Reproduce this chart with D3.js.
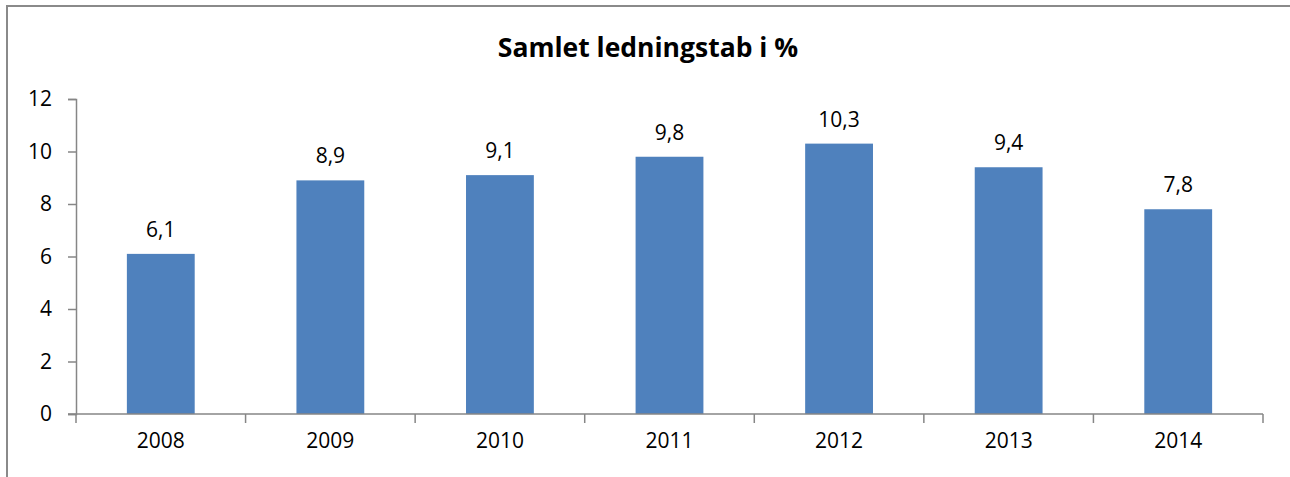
<!DOCTYPE html>
<html lang="da">
<head>
  <meta charset="utf-8">
  <title>Samlet ledningstab i %</title>
  <script src="https://d3js.org/d3.v7.min.js"></script>
  <style>
    body { margin: 0; background: #fff; }
    text { font-family: "Open Sans", Lato, sans-serif; fill: #000; }
  </style>
</head>
<body>
  <div id="chart"></div>
  <script>
    // data
    var aar = ["2008", "2009", "2010", "2011", "2012", "2013", "2014"];
    var tab = [6.1, 8.9, 9.1, 9.8, 10.3, 9.4, 7.8];
    var yTicks = [0, 2, 4, 6, 8, 10, 12];

    var W = 1290, H = 477;
    var m = {top: 99, left: 76, right: 27, bottom: 63};
    var bredde = W - m.left - m.right, hoejde = H - m.top - m.bottom;

    var svg = d3.select("#chart").append("svg")
      .attr("width", W).attr("height", H);

    // ramme
    svg.append("rect")
      .attr("x", 7).attr("y", 6)
      .attr("width", W + 10).attr("height", H + 10)
      .attr("fill", "none").attr("stroke", "#8a8a8a").attr("stroke-width", 2);

    svg.append("text")
      .attr("x", 648).attr("y", 57)
      .attr("text-anchor", "middle")
      .style("font-size", "26.5px").style("font-weight", "bold")
      .text("Samlet ledningstab i %");

    var g = svg.append("g").attr("transform", "translate(" + m.left + "," + m.top + ")");

    var x = d3.scaleBand().domain(aar).range([0, bredde]).paddingInner(0.6).paddingOuter(0.3);
    var xb = d3.scaleBand().domain(aar).range([0, bredde]); // til tick-streger
    var y = d3.scaleLinear().domain([0, 12]).range([hoejde, 0]);

    // bjælker
    g.selectAll("rect.bar").data(tab).enter().append("rect")
      .attr("class", "bar")
      .attr("x", (d, i) => x(aar[i]))
      .attr("width", x.bandwidth())
      .attr("y", d => y(d))
      .attr("height", d => hoejde - y(d))
      .attr("fill", "#4f81bd");

    // værdier
    g.selectAll("text.val").data(tab).enter().append("text")
      .attr("class", "val")
      .attr("x", (d, i) => x(aar[i]) + x.bandwidth() / 2)
      .attr("y", d => y(d) - 17)
      .attr("text-anchor", "middle")
      .style("font-size", "21px")
      .text(d => String(d).replace(".", ","));

    // y-akse
    var yAx = g.append("g")
      .call(d3.axisLeft(y).tickValues(yTicks).tickSize(8).tickPadding(16));
    yAx.select(".domain").attr("stroke", "#868686").attr("stroke-width", 1.5);
    yAx.selectAll(".tick line").attr("stroke", "#868686").attr("stroke-width", 1.5);
    yAx.selectAll("text").style("font-size", "21px").style("font-family", "'Open Sans', sans-serif");

    // x-akse
    var xAx = g.append("g").attr("transform", "translate(0," + hoejde + ")");
    xAx.append("line").attr("x1", -8).attr("x2", bredde)
      .attr("stroke", "#868686").attr("stroke-width", 1.5);
    var grenser = aar.map(a => xb(a)).concat([bredde]);
    xAx.selectAll("line.t").data(grenser).enter().append("line")
      .attr("class", "t")
      .attr("x1", d => d).attr("x2", d => d)
      .attr("y1", 0).attr("y2", 9)
      .attr("stroke", "#868686").attr("stroke-width", 1.5);
    xAx.selectAll("text").data(aar).enter().append("text")
      .attr("x", d => xb(d) + xb.bandwidth() / 2)
      .attr("y", 34)
      .attr("text-anchor", "middle")
      .style("font-size", "21px")
      .text(d => d);
  </script>
</body>
</html>
